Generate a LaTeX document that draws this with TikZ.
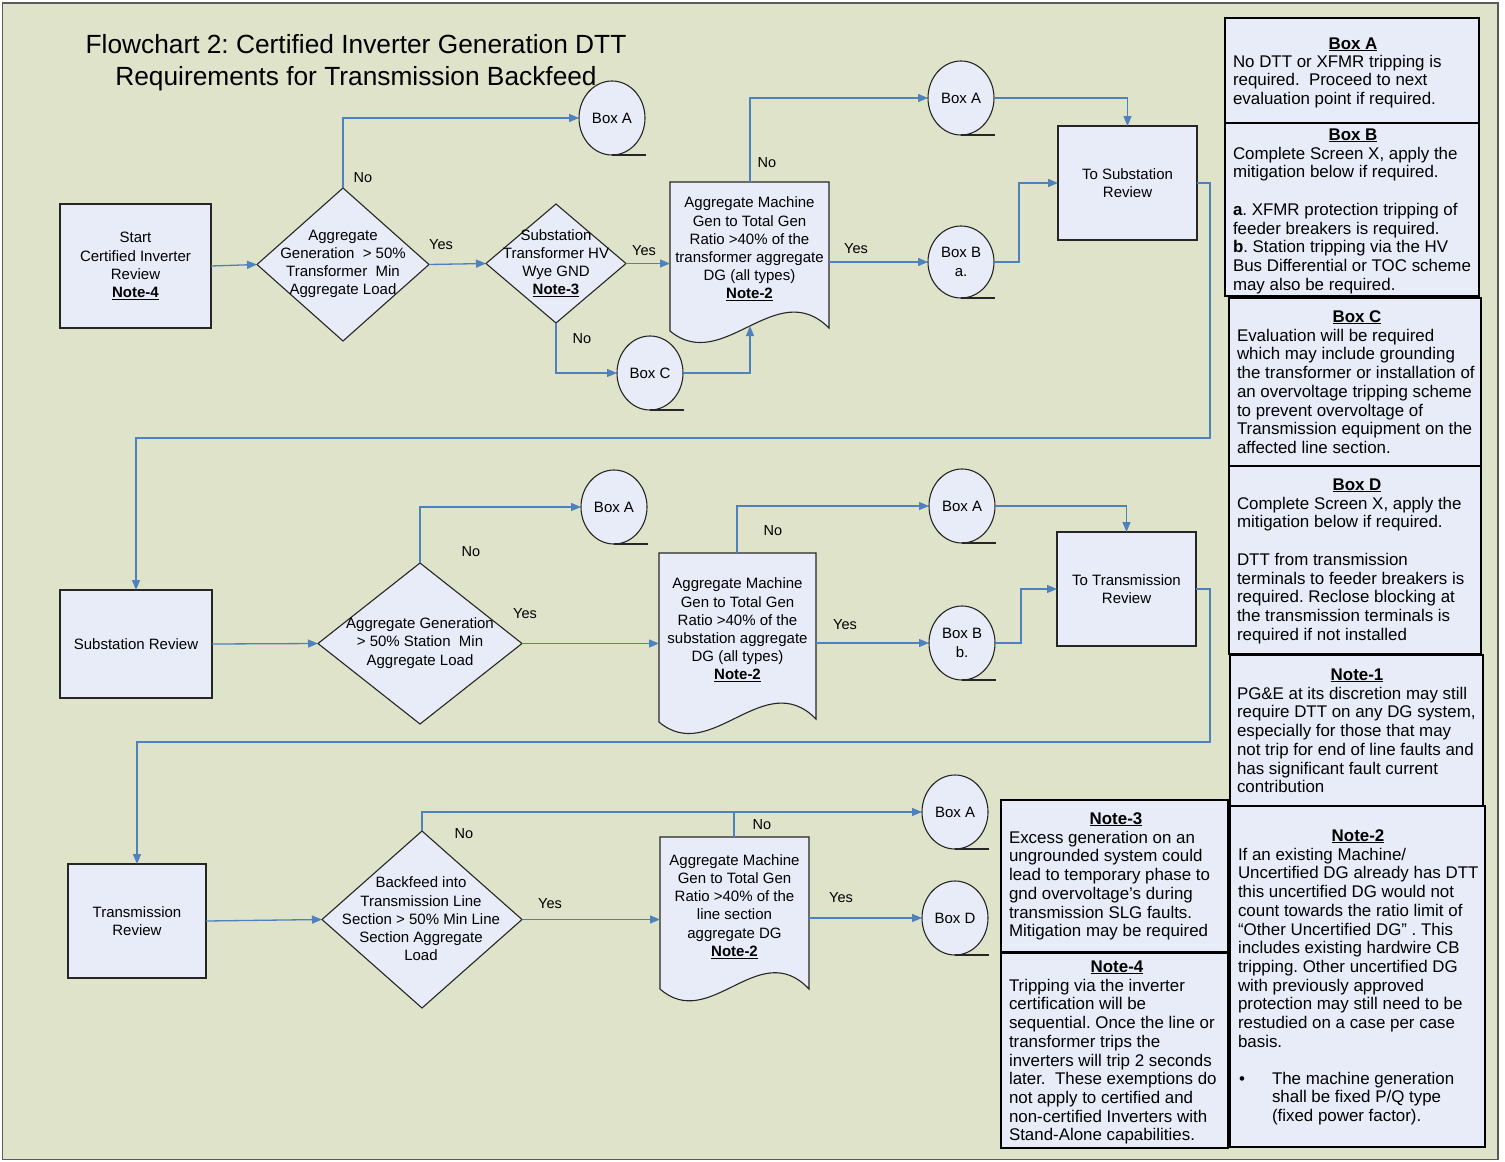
\documentclass[tikz,border=0pt]{standalone}
\usepackage{fontspec}
\setmainfont{Liberation Sans}
\usetikzlibrary{shapes.geometric,arrows.meta,calc}
\definecolor{bgcol}{RGB}{222,227,201}
\definecolor{nodecol}{RGB}{232,236,248}
\definecolor{linecol}{RGB}{79,129,189}
\definecolor{framecol}{RGB}{90,90,90}
\frenchspacing
\begin{document}
\begin{tikzpicture}[x=1pt,y=-1pt,
  every node/.style={inner sep=0pt, outer sep=0pt},
  fcfont/.style={font=\fontsize{15}{18.2}\selectfont},
  procbox/.style={draw=black!85, line width=1.2pt, fill=nodecol, align=center, fcfont},
  decbox/.style={diamond, draw=black!85, line width=1.1pt, fill=nodecol},
  refcirc/.style={ellipse, draw=black!85, line width=1.1pt, fill=nodecol, minimum width=66pt, minimum height=74pt, align=center, fcfont},
  docshape/.style={draw=black!85, line width=1.1pt, fill=nodecol},
  fctext/.style={align=center, fcfont},
  arr/.style={draw=linecol, line width=1.3pt, -{Triangle[length=10pt,width=8pt]}},
  conn/.style={draw=linecol, line width=1.3pt},
  lbl/.style={font=\fontsize{14.5}{17}\selectfont},
  infobox/.style={draw=black, line width=2.4pt, fill=nodecol},
  infotitle/.style={font=\fontsize{16.9}{18.7}\selectfont\bfseries, anchor=base},
  infobody/.style={font=\fontsize{16.9}{18.7}\selectfont, align=left, anchor=north west},
  tail/.style={draw=black!85, line width=1.1pt},
]
\useasboundingbox (0,0) rectangle (1505,1162);
\fill[white] (0,0) rectangle (1505,1162);
\draw[framecol, line width=1.5pt, fill=bgcol] (2.5,3) rectangle (1498,1159.5);

% title
\node[align=center, font=\fontsize{26.3}{32}\selectfont] (title) at (356,63)
  {Flowchart 2: Certified Inverter Generation DTT\\Requirements for Transmission Backfeed};

% ---------- Row 1 ----------
\node[procbox, minimum width=151pt, minimum height=124pt] (start) at (135.5,266)
  {Start\\Certified Inverter\\Review\\\underline{\textbf{Note-4}}};
\node[decbox, minimum width=172pt, minimum height=153pt] (d1) at (343,264.5) {};
\node[fctext] (d1t) at (343,264) {Aggregate\\Generation\ \ > 50\%\\Transformer\ \ Min\\Aggregate Load};
\node[decbox, minimum width=140pt, minimum height=119pt] (d2) at (556,263.5) {};
\node[fctext] (d2t) at (556,263) {Substation\\Transformer HV\\Wye GND\\\underline{\textbf{Note-3}}};

\draw[docshape] (670,182) -- (829,182) -- (829,328) .. controls (776,275) and (723,375) .. (670,331) -- cycle;
\node[fctext, minimum width=159pt] (doc1) at (749.5,249)
  {Aggregate Machine\\Gen to Total Gen\\Ratio >40\% of the\\transformer aggregate\\DG (all types)\\\underline{\textbf{Note-2}}};
\coordinate (doc1top) at (750,182);
\coordinate (doc1bot) at (750,326);

\node[refcirc] (bA1) at (612,118) {Box A};
\node[refcirc] (bC) at (650,373) {Box C};
\node[refcirc] (bA2) at (961,98) {Box A};
\node[refcirc, minimum height=72pt] (bB1) at (961,262) {Box B\\a.};
\foreach \n in {bA1,bC,bA2,bB1} \draw[tail] (\n.south) -- ++(34,0);

\node[procbox, minimum width=139pt, minimum height=114pt] (tsr) at (1127.5,183)
  {To Substation\\Review};

\draw[arr] (start.east) -- (d1.west);
\draw[arr] (d1.north) |- (bA1.west);
\draw[arr] (d1.east) -- (d2.west);
\draw[arr] (d2.east) -- (d2.east -| doc1.west);
\draw[arr] (d2.south) |- (bC.west);
\draw[arr] (bC.east) -| (doc1bot);
\draw[arr] (doc1top) |- (bA2.west);
\draw[arr] (bA2.east) -| (tsr.north);
\draw[arr] (doc1.east |- bB1.west) -- (bB1.west);
\draw[arr] (bB1.east) -- ++(25,0) |- (tsr.west);

\node[lbl] (l1) at (363,178) {No};
\node[lbl] (l2) at (441,245) {Yes};
\node[lbl] (l3) at (644,251) {Yes};
\node[lbl] (l4) at (582,339) {No};
\node[lbl] (l5) at (767,163) {No};
\node[lbl] (l6) at (856,249) {Yes};

% ---------- Row 2 ----------
\node[procbox, minimum width=152pt, minimum height=108pt] (subrev) at (136,644) {Substation Review};
\draw[arr] (tsr.east) -- ++(13,0) -- ++(0,255) -| (subrev.north);

\node[decbox, minimum width=204pt, minimum height=161pt] (d3) at (420,643.5) {};
\node[fctext] (d3t) at (420,643) {Aggregate Generation\\> 50\% Station\ \ Min\\Aggregate Load};

\draw[docshape] (659,553) -- (816,553) -- (816,719) .. controls (764,666) and (711,766) .. (659,722) -- cycle;
\node[fctext, minimum width=157pt] (doc2) at (737.5,630)
  {Aggregate Machine\\Gen to Total Gen\\Ratio >40\% of the\\substation aggregate\\DG (all types)\\\underline{\textbf{Note-2}}};
\coordinate (doc2top) at (737,553);

\node[refcirc] (bA3) at (614,507) {Box A};
\node[refcirc] (bA4) at (962,506) {Box A};
\node[refcirc] (bBb) at (962,643) {Box B\\b.};
\foreach \n in {bA3,bA4,bBb} \draw[tail] (\n.south) -- ++(34,0);

\node[procbox, minimum width=139pt, minimum height=114pt] (ttr) at (1126.5,589)
  {To Transmission\\Review};

\draw[arr] (subrev.east) -- (d3.west);
\draw[arr] (d3.north) |- (bA3.west);
\draw[arr] (d3.east) -- (d3.east -| doc2.west);
\draw[arr] (doc2top) |- (bA4.west);
\draw[arr] (bA4.east) -| (ttr.north);
\draw[arr] (doc2.east |- bBb.west) -- (bBb.west);
\draw[arr] (bBb.east) -- ++(26,0) |- (ttr.west);

\node[lbl] (l7) at (471,552) {No};
\node[lbl] (l8) at (525,614) {Yes};
\node[lbl] (l9) at (773,531) {No};
\node[lbl] (l10) at (845,625) {Yes};

% ---------- Row 3 ----------
\node[procbox, minimum width=138pt, minimum height=114pt] (trrev) at (137,921) {Transmission\\Review};
\draw[arr] (ttr.east) -- ++(14,0) -- ++(0,153) -| (trrev.north);

\node[decbox, minimum width=200pt, minimum height=177pt] (d4) at (422,919.5) {};
\node[fctext] (d4t) at (421,919) {Backfeed into\\Transmission Line\\Section > 50\% Min Line\\Section Aggregate\\Load};

\draw[docshape] (660,837) -- (809,837) -- (809,989) .. controls (759,936) and (710,1033) .. (660,989) -- cycle;
\node[fctext, minimum width=149pt] (doc3) at (734.5,906.5)
  {Aggregate Machine\\Gen to Total Gen\\Ratio >40\% of the\\line section\\aggregate DG\\\underline{\textbf{Note-2}}};
\coordinate (doc3top) at (734,837);

\node[refcirc] (bA5) at (955,812) {Box A};
\node[refcirc] (bD) at (955,918) {Box D};
\foreach \n in {bA5,bD} \draw[tail] (\n.south) -- ++(34,0);

\draw[arr] (trrev.east) -- (d4.west);
\draw[arr] (d4.north) |- (bA5.west);
\draw[conn] (doc3top) -- (doc3top |- bA5.west);
\draw[arr] (d4.east) -- (d4.east -| doc3.west);
\draw[arr] (doc3.east |- bD.west) -- (bD.west);

\node[lbl] (l11) at (464,834) {No};
\node[lbl] (l12) at (762,825) {No};
\node[lbl] (l13) at (550,904) {Yes};
\node[lbl] (l14) at (841,898) {Yes};

% ---------- Info boxes ----------
\draw[infobox] (1225,18) rectangle (1479,123);
\draw[infobox] (1225,123) rectangle (1479,296);
\draw[infobox] (1229,298) rectangle (1481,466);
\draw[infobox] (1229,466) rectangle (1481,654);
\draw[infobox] (1230,655) rectangle (1483,806);
\draw[infobox] (1230,806) rectangle (1485,1147);
\draw[infobox] (1001,800) rectangle (1228,952);
\draw[infobox] (1001,953) rectangle (1228,1148);

\node[infotitle] (tA) at (1353,49) {\underline{Box A}};
\node[infobody] (xA) at (1233,55)
  {No DTT or XFMR tripping is\\required.\ \ Proceed to next\\evaluation point if required.};

\node[infotitle] (tB) at (1353,140) {\underline{Box B}};
\node[infobody] (xB) at (1233,147)
  {Complete Screen X, apply the\\mitigation below if required.\\[18.7pt]
   \textbf{a}. XFMR protection tripping of\\feeder breakers is required.\\
   \textbf{b}. Station tripping via the HV\\Bus Differential or TOC scheme\\may also be required.};

\node[infotitle] (tC) at (1357,322) {\underline{Box C}};
\node[infobody] (xC) at (1237,329)
  {Evaluation will be required\\which may include grounding\\the transformer or installation of\\an overvoltage tripping scheme\\to prevent overvoltage of\\Transmission equipment on the\\affected line section.};

\node[infotitle] (tD) at (1357,490) {\underline{Box D}};
\node[infobody] (xD) at (1237,497)
  {Complete Screen X, apply the\\mitigation below if required.\\[18.7pt]
   DTT from transmission\\terminals to feeder breakers is\\required. Reclose blocking at\\the transmission terminals is\\required if not installed};

\node[infotitle] (tN1) at (1357,680) {\underline{Note-1}};
\node[infobody] (xN1) at (1237,687)
  {PG\&E at its discretion may still\\require DTT on any DG system,\\especially for those that may\\not trip for end of line faults and\\has significant fault current\\contribution};

\node[infotitle] (tN2) at (1358,841) {\underline{Note-2}};
\node[infobody] (xN2) at (1238,848)
  {If an existing Machine/\\Uncertified DG already has DTT\\this uncertified DG would not\\count towards the ratio limit of\\“Other Uncertified DG” . This\\includes existing hardwire CB\\tripping. Other uncertified DG\\with previously approved\\protection may still need to be\\restudied on a case per case\\basis.};
\node[font=\fontsize{16.9}{18.7}\selectfont, anchor=base west] (bul) at (1239,1084) {•};
\node[infobody] (xN2b) at (1272,1072)
  {The machine generation\\shall be fixed P/Q type\\(fixed power factor).};

\node[infotitle] (tN3) at (1116,824) {\underline{Note-3}};
\node[infobody] (xN3) at (1009,831)
  {Excess generation on an\\ungrounded system could\\lead to temporary phase to\\gnd overvoltage’s during\\transmission SLG faults.\\Mitigation may be required};

\node[infotitle] (tN4) at (1117,972) {\underline{Note-4}};
\node[infobody] (xN4) at (1009,979)
  {Tripping via the inverter\\certification will be\\sequential. Once the line or\\transformer trips the\\inverters will trip 2 seconds\\later.\ \ These exemptions do\\not apply to certified and\\non-certified Inverters with\\Stand-Alone capabilities.};
\end{tikzpicture}
\end{document}
